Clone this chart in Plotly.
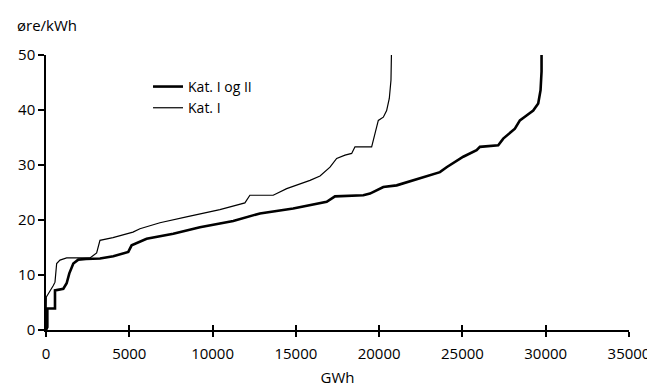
import plotly.graph_objects as go

# Kat. I og II (thick)
gwh_all = [0, 80, 80, 540, 540, 1040, 1240, 1400, 1640, 1940, 2400, 3240, 4040, 4940, 5140,
           6040, 7640, 9240, 11240, 12240, 12840, 14840, 16850, 17350, 19050, 19450, 20250,
           21050, 22050, 23050, 23650, 24050, 25050, 25850, 26050, 27150, 27450, 28150,
           28450, 28850, 29250, 29550, 29690, 29750, 29750]
ore_all = [0, 0.5, 3.9, 3.9, 7.2, 7.5, 8.5, 10.3, 12.1, 12.8, 12.9, 13.0, 13.4, 14.2, 15.4,
           16.6, 17.5, 18.7, 19.8, 20.7, 21.2, 22.1, 23.3, 24.3, 24.5, 24.8, 26.0,
           26.3, 27.2, 28.1, 28.7, 29.6, 31.5, 32.7, 33.3, 33.6, 34.8, 36.6,
           38.1, 39.0, 39.9, 41.2, 43.6, 47.0, 50.5]

# Kat. I (thin)
gwh_1 = [0, 20, 440, 540, 640, 840, 1240, 2640, 3040, 3240, 4020, 5220, 5640, 6840, 8500,
         10440, 11940, 12240, 13640, 14450, 15850, 16450, 17050, 17450, 17950, 18350, 18550,
         19550, 19750, 19950, 20250, 20450, 20610, 20710, 20740]
ore_1 = [0, 6.0, 8.1, 8.7, 12.1, 12.7, 13.1, 13.1, 14.0, 16.3, 16.8, 17.8, 18.4, 19.5, 20.6,
         21.9, 23.1, 24.5, 24.5, 25.7, 27.2, 28.0, 29.6, 31.2, 31.8, 32.1, 33.3,
         33.3, 35.7, 38.1, 38.7, 39.9, 42.1, 45.4, 50.5]

x_ticks = [0, 5000, 10000, 15000, 20000, 25000, 30000, 35000]
y_ticks = [0, 10, 20, 30, 40, 50]

FONT = "Open Sans"

fig = go.Figure()
fig.add_trace(go.Scatter(x=gwh_all, y=ore_all, mode="lines", name="Kat. I og II",
                         line=dict(color="black", width=2.6)))
fig.add_trace(go.Scatter(x=gwh_1, y=ore_1, mode="lines", name="Kat. I",
                         line=dict(color="black", width=1.2)))
# empty helper trace so the overlaid x-axis (inner half of the crossing ticks) is drawn
fig.add_trace(go.Scatter(x=[], y=[], xaxis="x2", yaxis="y", showlegend=False,
                         hoverinfo="skip", mode="lines"))

# page body has an 8px margin, so the figure is drawn 8px smaller and offset
fig.update_layout(
    template="none",
    width=647, height=379,
    margin=dict(l=38, r=26, t=47, b=57, autoexpand=False),
    paper_bgcolor="white", plot_bgcolor="white",
    font=dict(family=FONT, size=15, color="black"),
    showlegend=True,
    legend=dict(x=0.175, y=0.942, xanchor="left", yanchor="top",
                bgcolor="rgba(0,0,0,0)", font=dict(size=14, family=FONT),
                itemwidth=30, tracegroupgap=0),
    xaxis=dict(range=[0, 35000], tickmode="array", tickvals=x_ticks,
               ticktext=[str(v) for v in x_ticks],
               showgrid=False, zeroline=False, showline=True, linecolor="black", linewidth=1.5,
               ticks="outside", ticklen=5, tickwidth=1.5, tickcolor="black",
               title=dict(text="GWh", font=dict(size=15), standoff=14),
               ticklabelstandoff=4, automargin=False),
    xaxis2=dict(range=[0, 35000], tickmode="array", tickvals=x_ticks, overlaying="x",
                anchor="y", side="bottom", showgrid=False, zeroline=False, showline=False,
                showticklabels=False, automargin=False,
                ticks="inside", ticklen=5, tickwidth=1.5, tickcolor="black"),
    yaxis=dict(range=[0, 50], tickmode="array", tickvals=y_ticks, showgrid=False,
               zeroline=False, showline=True, linecolor="black", linewidth=1.5,
               ticks="outside", ticklen=6, tickwidth=1.5, tickcolor="black",
               automargin=False),
    annotations=[dict(text="øre/kWh", xref="paper", yref="paper",
                      x=-31 / 583, y=(330 - 25) / 275, xanchor="left", yanchor="middle",
                      showarrow=False, font=dict(size=15, family=FONT))],
)

fig.write_html("out.html")
